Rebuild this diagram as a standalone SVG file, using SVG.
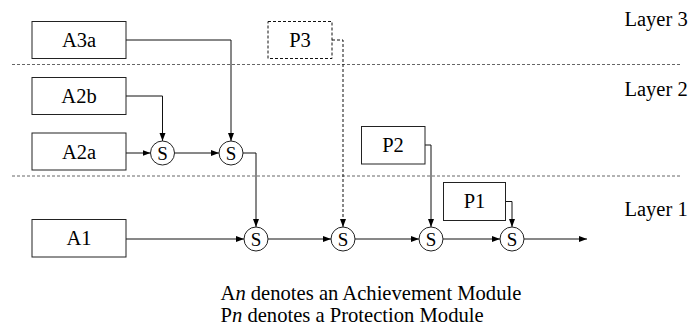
<svg xmlns="http://www.w3.org/2000/svg" width="691" height="329" viewBox="0 0 691 329" font-family="Liberation Serif, Times New Roman, serif" font-size="20.5">
<style>
text{fill:#000}
.box{fill:#fff;stroke:#222;stroke-width:1}
.dbox{fill:#fff;stroke:#111;stroke-width:1;stroke-dasharray:3 2}
.sum{fill:#fff;stroke:#222;stroke-width:1}
.lbl{text-anchor:middle}
.layer{fill:none;stroke:#666;stroke-width:1;stroke-dasharray:3 2}
.c{fill:none;stroke:#111;stroke-width:1;marker-end:url(#arr)}
.cd{fill:none;stroke:#111;stroke-width:1;stroke-dasharray:3 2;marker-end:url(#arr)}
</style>
<defs>
<marker id="arr" markerUnits="userSpaceOnUse" markerWidth="9" markerHeight="7" refX="8" refY="3" orient="auto">
<path d="M0,0 L8,3 L0,6 z" fill="#000"/>
</marker>
</defs>
<rect width="691" height="329" fill="#fff"/>
<g id="layers">
<line class="layer" x1="12" y1="64.5" x2="680" y2="64.5"/>
<line class="layer" x1="12" y1="176" x2="680" y2="176"/>
<text x="624.5" y="26">Layer 3</text>
<text x="624.5" y="95.5">Layer 2</text>
<text x="624.5" y="215.5">Layer 1</text>
</g>
<g id="connectors">
<path class="c" d="M126 40 H231 V141"/>
<path class="c" d="M126 96 H162.5 V141"/>
<path class="c" d="M126 153 H150.5"/>
<path class="c" d="M174.5 153 H219"/>
<path class="c" d="M243 153 H256 V227"/>
<path class="cd" d="M332 40 H343 V227"/>
<path class="c" d="M126 239 H244"/>
<path class="c" d="M268 239 H331"/>
<path class="c" d="M425 145 H431 V227"/>
<path class="c" d="M355 239 H419"/>
<path class="c" d="M505.5 201.5 H512 V227"/>
<path class="c" d="M443 239 H500"/>
<path class="c" d="M524 239 H587"/>
</g>
<g id="A3a"><rect class="box" x="32" y="21.5" width="94" height="37"/><text class="lbl" x="79" y="47">A3a</text></g>
<g id="A2b"><rect class="box" x="32" y="77.5" width="94" height="37"/><text class="lbl" x="79" y="103">A2b</text></g>
<g id="A2a"><rect class="box" x="32" y="133" width="94" height="37"/><text class="lbl" x="79" y="158.5">A2a</text></g>
<g id="A1"><rect class="box" x="32" y="219.5" width="94" height="37.5"/><text class="lbl" x="79" y="245">A1</text></g>
<g id="P3"><rect class="dbox" x="268" y="21.5" width="64" height="37"/><text class="lbl" x="300" y="47">P3</text></g>
<g id="P2"><rect class="box" x="361.5" y="126.5" width="63.5" height="37.5"/><text class="lbl" x="393" y="152">P2</text></g>
<g id="P1"><rect class="box" x="443.5" y="182.5" width="62" height="38"/><text class="lbl" x="474.5" y="208">P1</text></g>
<g id="S1" font-size="19"><circle class="sum" cx="162.5" cy="153" r="12"/><text class="lbl" x="162.5" y="159.5">S</text></g>
<g id="S2" font-size="19"><circle class="sum" cx="231" cy="153" r="12"/><text class="lbl" x="231" y="159.5">S</text></g>
<g id="S3" font-size="19"><circle class="sum" cx="256" cy="239" r="12"/><text class="lbl" x="256" y="245.5">S</text></g>
<g id="S4" font-size="19"><circle class="sum" cx="343" cy="239" r="12"/><text class="lbl" x="343" y="245.5">S</text></g>
<g id="S5" font-size="19"><circle class="sum" cx="431" cy="239" r="12"/><text class="lbl" x="431" y="245.5">S</text></g>
<g id="S6" font-size="19"><circle class="sum" cx="512" cy="239" r="12"/><text class="lbl" x="512" y="245.5">S</text></g>
<g id="legend" font-size="20.6">
<text x="220.5" y="299.5">A<tspan font-style="italic">n</tspan> denotes an Achievement Module</text>
<text x="220.5" y="321.5">P<tspan font-style="italic">n</tspan> denotes a Protection Module</text>
</g>
</svg>
